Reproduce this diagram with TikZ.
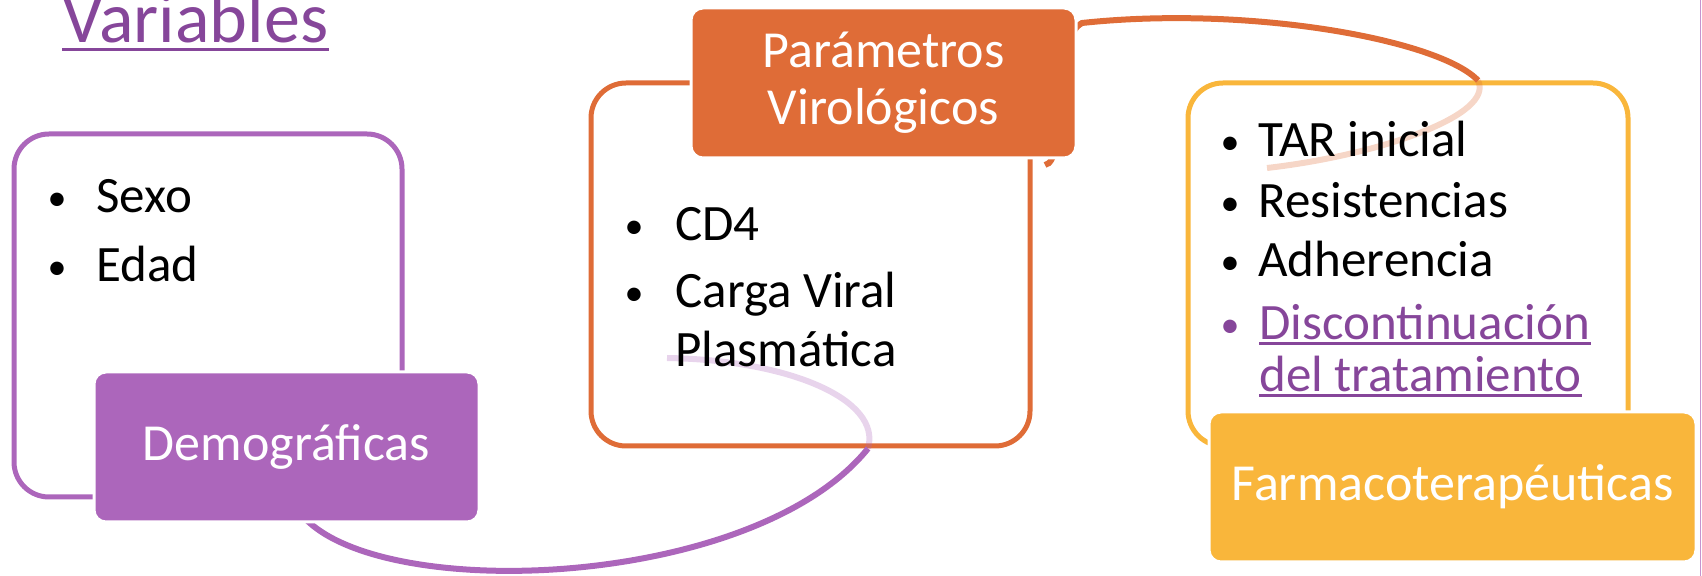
\documentclass[tikz,border=0pt]{standalone}
\usepackage{fontspec}
\setmainfont{Carlito}
\definecolor{demo}{RGB}{172,102,187}
\definecolor{orng}{RGB}{223,108,55}
\definecolor{yell}{RGB}{249,182,59}
\definecolor{link}{RGB}{134,70,154}
\begin{document}
\begin{tikzpicture}[x=0.5pt,y=-0.5pt,
  outer/.style={draw, line width=2.5pt, rounded corners=17.5pt, inner sep=0, minimum height=181.5pt},
  fillbox/.style={draw=white, line width=1.5pt, rounded corners=6pt, inner sep=0, minimum height=75pt, text=white, font=\fontsize{26}{28.5}\selectfont, align=center},
  item/.style={anchor=base west, inner sep=0, font=\fontsize{25.5}{25.5}\selectfont},
  bul/.style={anchor=base, inner sep=0, font=\fontsize{19}{19}\selectfont},
  arcline/.style={line width=3pt},
  faint/.style={line width=3pt, opacity=0.28},
  uline/.style={link, line width=1.5pt}
]
\useasboundingbox (0,0) rectangle (1702,576);
% title
\node[anchor=base west, inner sep=0, text=link, font=\fontsize{36}{36}\selectfont] (title) at (62,43) {Variables};
\draw[uline] ([yshift=-3.5pt]title.base west) -- ([yshift=-3.5pt]title.base east);
% slide edge
\coordinate (edgeT) at (1700.5,0);
\coordinate (edgeB) at (1700.5,576);
\draw[demo!70, line width=0.8pt] (edgeT) -- (edgeB);
% outer boxes
\node[outer, draw=demo, minimum width=194pt] (demoOut) at (208,315.5) {};
\node[outer, draw=orng, minimum width=219.5pt] (viroOut) at (810.5,264.5) {};
\node[outer, draw=yell, minimum width=220pt] (farmOut) at (1408,264.5) {};
% arcs
\coordinate (pa0) at (295,505);
\coordinate (pa1) at ([xshift=28.75pt]viroOut.south);
\coordinate (pa2) at (667,358);
\draw[demo, arcline] (pa0) .. controls (350,605) and (750,595) .. (pa1);
\draw[demo, faint] (pa1) .. controls (882,400) and (790,360) .. (pa2);
\coordinate (oa0) at (1045,165);
\coordinate (oa1) at (1082,23);
\coordinate (oa2) at ([xshift=35pt]farmOut.north);
\coordinate (oa3) at (1267,168);
\draw[orng, arcline] (oa0) .. controls (1068,162) and (1050,40) .. (oa1)
   .. controls (1250,5) and (1440,40) .. (oa2);
\draw[orng, faint] (oa2) .. controls (1495,115) and (1380,155) .. (oa3);
% filled boxes
\node[fillbox, fill=demo, minimum width=192.5pt] (demo) at (286.5,447) {Demográficas};
\node[fillbox, fill=orng, minimum width=192.5pt] (viro) at (883.5,83) {Parámetros\\Virológicos};
\node[fillbox, fill=yell, minimum width=243.5pt] (farm) at (1452.5,487) {Farmacoterapéuticas};
% purple items
\node[bul] (b1) at (57,211) {•};
\node[item] (sexo) at (96,213) {Sexo};
\node[bul] (b2) at (57,280) {•};
\node[item] (edad) at (96,282) {Edad};
% orange items
\node[bul] (b3) at (634,239) {•};
\node[item] (cd4) at (675,241) {CD4};
\node[bul] (b4) at (634,306) {•};
\node[item] (carga) at (675,308) {Carga Viral};
\node[item] (plasm) at (675,367) {Plasmática};
% yellow items
\node[bul] (b5) at (1230,155) {•};
\node[item] (tar) at (1258,157) {TAR inicial};
\node[bul] (b6) at (1230,216) {•};
\node[item] (res) at (1258,218) {Resistencias};
\node[bul] (b7) at (1230,275) {•};
\node[item] (adh) at (1258,277) {Adherencia};
\node[bul, text=link] (b8) at (1230,338) {•};
\node[item, text=link] (disc) at (1259,340) {Discontinuación};
\node[item, text=link] (trat) at (1259,392) {del tratamiento};
\draw[uline] ([yshift=-1.8pt]disc.base west) -- ([yshift=-1.8pt]disc.base east);
\draw[uline] ([yshift=-1.8pt]trat.base west) -- ([yshift=-1.8pt]trat.base east);
\end{tikzpicture}
\end{document}
